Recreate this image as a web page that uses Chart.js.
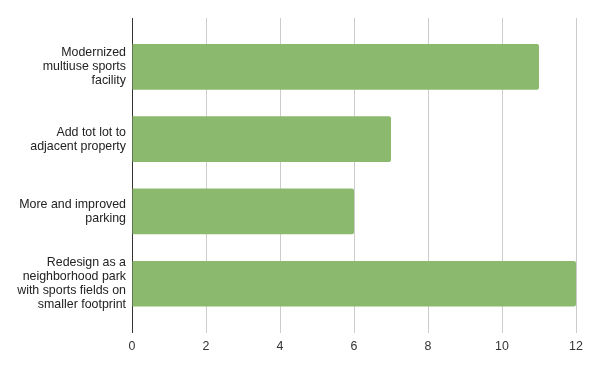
<!DOCTYPE html>
<html>
<head>
<meta charset="utf-8">
<script src="https://cdn.jsdelivr.net/npm/chart.js@4/dist/chart.umd.min.js"></script>
<style>
  html, body { margin: 0; padding: 0; background: #fff; }
  #wrap { width: 595px; height: 371px; }
</style>
</head>
<body>
<div id="wrap"><canvas id="grafico"></canvas></div>
<script>
// categorias e valores
const categorias = [
    ['Modernized', 'multiuse sports', 'facility'],
    ['Add tot lot to', 'adjacent property'],
    ['More and improved', 'parking'],
    ['Redesign as a', 'neighborhood park', 'with sports fields on', 'smaller footprint']
];
const valores = [11, 7, 6, 12];
const ticksX = [0, 2, 4, 6, 8, 10, 12];

const pontos = valores.map((v, i) => ({ x: v, y: i }));

const ctx = document.getElementById('grafico').getContext('2d');
new Chart(ctx, {
    type: 'bar',
    data: {
        datasets: [{
            data: pontos,
            backgroundColor: '#8bba6e',
            borderRadius: 2,
            borderSkipped: 'start',
            barPercentage: 0.79,
            categoryPercentage: 0.8
        }]
    },
    options: {
        indexAxis: 'y',
        responsive: true,
        maintainAspectRatio: false,
        animation: false,
        layout: { padding: { top: 18, right: 19, bottom: 11, left: 0 } },
        plugins: {
            legend: { display: false },
            tooltip: { enabled: false }
        },
        scales: {
            x: {
                type: 'linear',
                min: ticksX[0],
                max: ticksX[ticksX.length - 1],
                afterBuildTicks: (scale) => {
                    scale.ticks = ticksX.map(v => ({ value: v }));
                },
                grid: {
                    drawTicks: false,
                    color: (c) => c.tick && c.tick.value === 0 ? '#333333' : '#cccccc'
                },
                border: { display: false },
                ticks: {
                    padding: 6,
                    color: '#333333',
                    font: { family: 'Liberation Sans', size: 12.4 }
                }
            },
            y: {
                type: 'linear',
                reverse: true,
                offset: false,
                min: -0.676,
                max: 3.683,
                afterBuildTicks: (scale) => {
                    scale.ticks = categorias.map((c, i) => ({ value: i }));
                },
                afterFit: (scale) => {
                    scale.width = 132;
                    scale.paddingTop = 0;
                    scale.paddingBottom = 0;
                },
                grid: { display: false, drawTicks: false },
                border: { display: false },
                ticks: {
                    padding: 6,
                    color: '#222222',
                    font: { family: 'Liberation Sans', size: 12.4, lineHeight: 1.13 },
                    callback: (v) => categorias[v]
                }
            }
        }
    }
});
</script>
</body>
</html>
